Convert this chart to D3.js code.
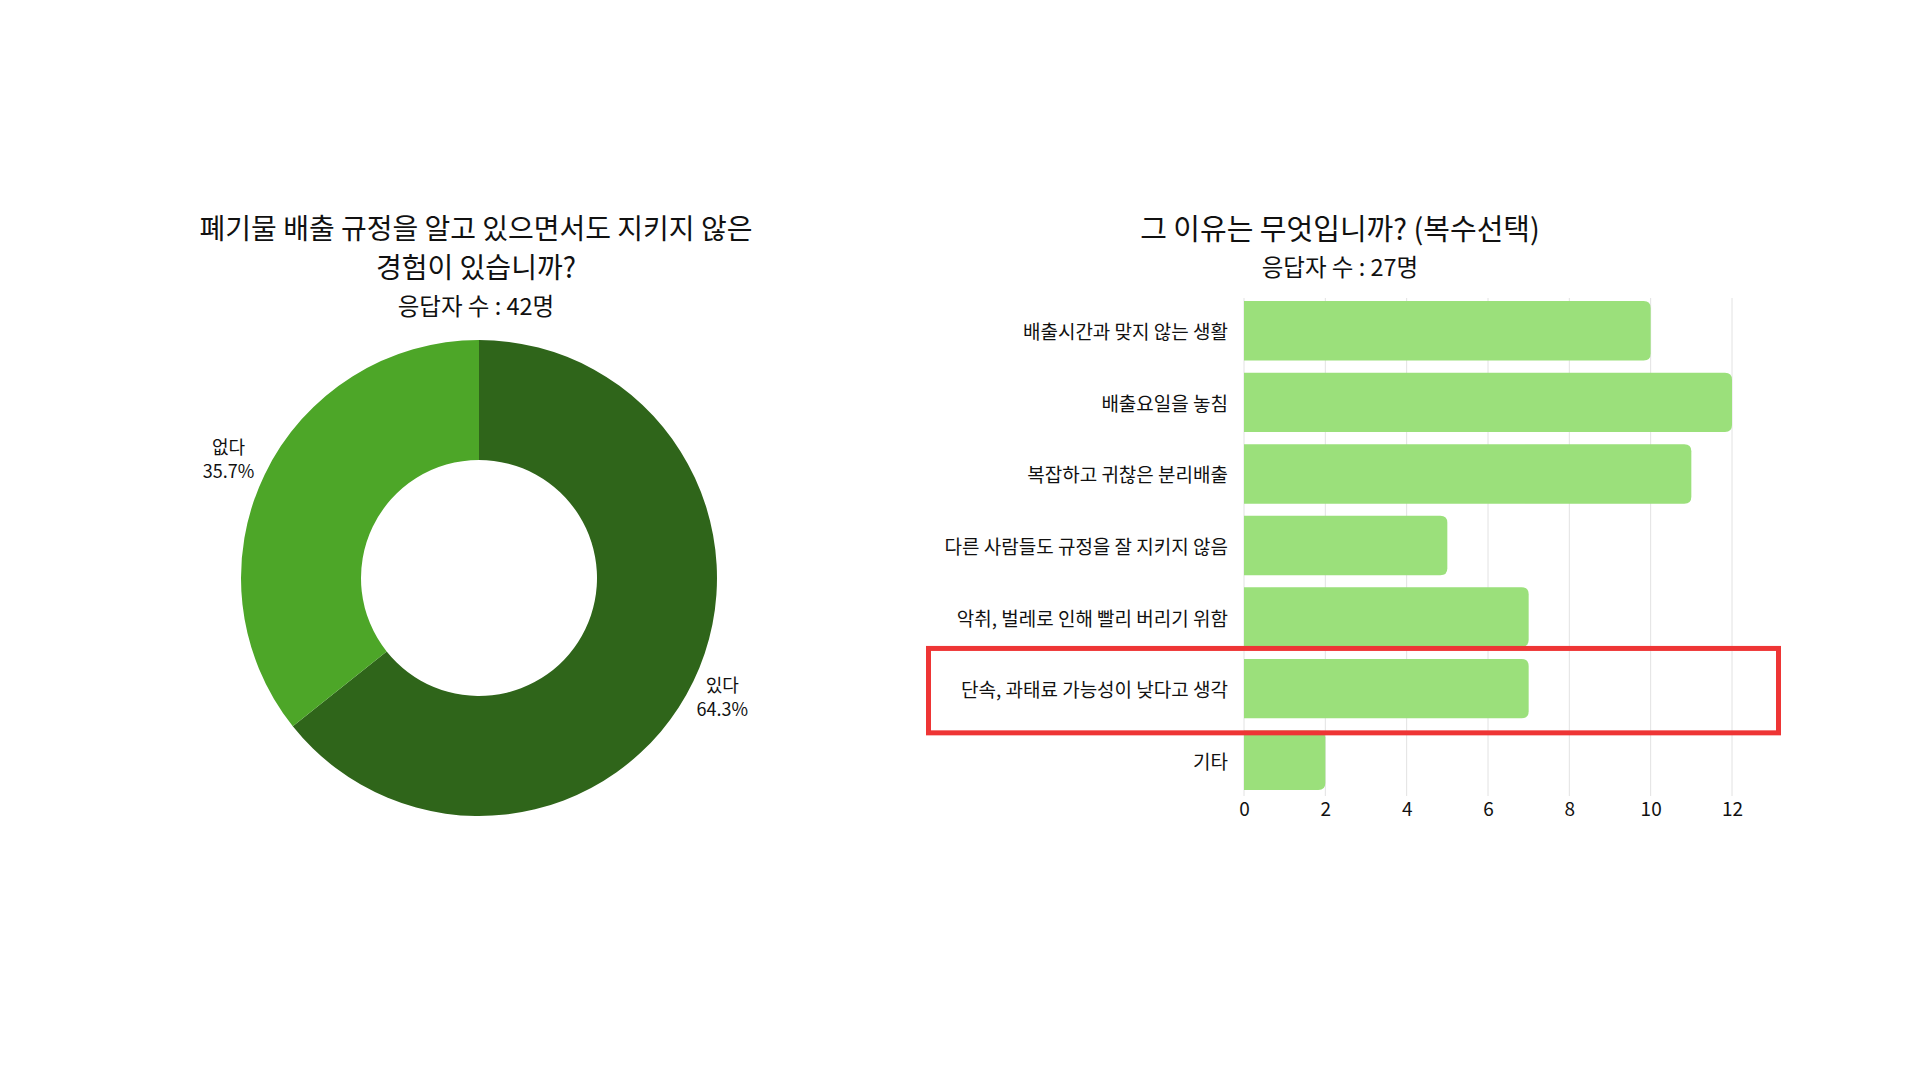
<!DOCTYPE html>
<html><head><meta charset="utf-8">
<script src="https://cdn.jsdelivr.net/npm/d3@7"></script>
<style>
html,body{margin:0;padding:0;background:#fff;}
svg text{font-family:"Noto Sans CJK KR","Noto Sans",sans-serif;fill:#111;}
</style></head>
<body>
<svg id="c" width="1920" height="1080"></svg>
<script>
// Donut data
const pieLabels = ["있다", "없다"];
const pieValues = [64.3, 35.7];
const pieColors = ["#2F651A", "#4DA628"];
const pieTitle = ["폐기물 배출 규정을 알고 있으면서도 지키지 않은", "경험이 있습니까?"];
const pieSubtitle = "응답자 수 : 42명";

// Bar data
const barCategories = ["배출시간과 맞지 않는 생활", "배출요일을 놓침", "복잡하고 귀찮은 분리배출",
  "다른 사람들도 규정을 잘 지키지 않음", "악취, 벌레로 인해 빨리 버리기 위함",
  "단속, 과태료 가능성이 낮다고 생각", "기타"];
const barValues = [10, 12, 11, 5, 7, 7, 2];
const barTicks = [0, 2, 4, 6, 8, 10, 12];
const barTitle = "그 이유는 무엇입니까? (복수선택)";
const barSubtitle = "응답자 수 : 27명";
const highlighted = "단속, 과태료 가능성이 낮다고 생각";

const svg = d3.select("#c");

// ---------- Donut ----------
const cx = 479, cy = 578, rOuter = 238, rInner = 118;
const g1 = svg.append("g");
g1.selectAll("text.t").data(pieTitle).join("text")
  .attr("x", 476).attr("y", (d, i) => 227 + i * 39)
  .attr("text-anchor", "middle").attr("dominant-baseline", "central")
  .attr("font-size", 28).text(d => d);
g1.append("text").attr("x", 476).attr("y", 305)
  .attr("text-anchor", "middle").attr("dominant-baseline", "central")
  .attr("font-size", 23.5).text(pieSubtitle);

const pie = d3.pie().sort(null).value(d => d)(pieValues);
const arc = d3.arc().innerRadius(rInner).outerRadius(rOuter);
const labelArc = d3.arc().innerRadius(274).outerRadius(274);
const pg = g1.append("g").attr("transform", `translate(${cx},${cy})`);
pg.selectAll("path").data(pie).join("path")
  .attr("d", arc).attr("fill", (d, i) => pieColors[i]);
const lab = pg.selectAll("text.l").data(pie).join("text")
  .attr("class", "l").attr("text-anchor", "middle").attr("font-size", 18)
  .attr("transform", d => { const c = labelArc.centroid(d); return `translate(${c[0] - 3.6},${c[1] + 1.5})`; });
lab.append("tspan").attr("x", 0).attr("dy", "-0.35em").text((d, i) => pieLabels[i]);
lab.append("tspan").attr("x", 0).attr("dy", "1.3em").text((d, i) => pieValues[i].toFixed(1) + "%");

// ---------- Bars ----------
const g2 = svg.append("g");
g2.append("text").attr("x", 1340).attr("y", 227)
  .attr("text-anchor", "middle").attr("dominant-baseline", "central")
  .attr("font-size", 29).text(barTitle);
g2.append("text").attr("x", 1340).attr("y", 266)
  .attr("text-anchor", "middle").attr("dominant-baseline", "central")
  .attr("font-size", 23.5).text(barSubtitle);

const x = d3.scaleLinear().domain([0, 12]).range([1244, 1732]);
const y = d3.scaleBand().domain(barCategories).range([295, 796])
  .paddingInner(0.17).paddingOuter(0.085);

// grid
g2.selectAll("line.grid").data(barTicks).join("line")
  .attr("x1", d => x(d)).attr("x2", d => x(d))
  .attr("y1", 298).attr("y2", 796)
  .attr("stroke", "#e2e2e2").attr("stroke-width", 1);

// bars with rounded right corners
const rr = 7;
function barPath(v, cat) {
  const x0 = x(0), x1 = x(v), y0 = y(cat), h = y.bandwidth();
  const r = Math.min(rr, (x1 - x0) / 2);
  return `M${x0},${y0}H${x1 - r}Q${x1},${y0} ${x1},${y0 + r}V${y0 + h - r}Q${x1},${y0 + h} ${x1 - r},${y0 + h}H${x0}Z`;
}
g2.selectAll("path.bar").data(barCategories).join("path")
  .attr("class", "bar").attr("fill", "#9BE07B")
  .attr("d", (c, i) => barPath(barValues[i], c));

// y labels
g2.selectAll("text.cat").data(barCategories).join("text")
  .attr("class", "cat").attr("x", 1228).attr("y", c => y(c) + y.bandwidth() / 2)
  .attr("text-anchor", "end").attr("dominant-baseline", "central")
  .attr("font-size", 19).text(c => c);

// x axis
const ax = g2.append("g").attr("transform", "translate(0,796)")
  .call(d3.axisBottom(x).tickValues(barTicks).tickSize(0).tickPadding(6));
ax.select(".domain").remove();
ax.selectAll("text").attr("font-size", 19).attr("fill", "#111")
  .style("font-family", '"Noto Sans CJK KR", sans-serif');

// highlight box
g2.append("rect")
  .attr("x", 928.5).attr("y", y(highlighted) - 10.5)
  .attr("width", 1778.5 - 928.5).attr("height", y.bandwidth() + 25)
  .attr("fill", "none").attr("stroke", "#EE3535").attr("stroke-width", 5);
</script>
</body></html>
